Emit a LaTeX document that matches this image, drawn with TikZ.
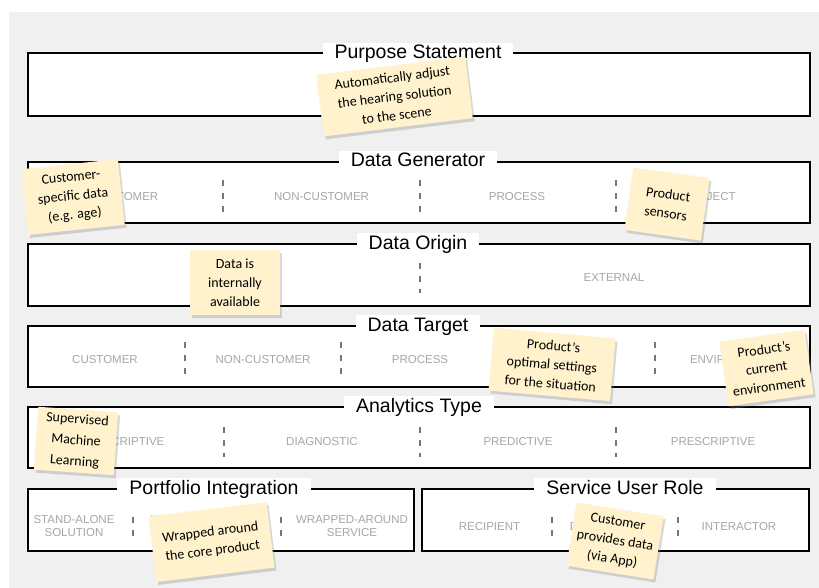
\documentclass[tikz,border=0pt]{standalone}
\usepackage{fontspec}
\setmainfont{Liberation Sans}
\newfontfamily\notefont{Carlito}
\usepackage{tikz}
\usetikzlibrary{positioning}
\usetikzlibrary{shadows}

\definecolor{notecol}{RGB}{255,242,204}
\definecolor{panelgray}{RGB}{240,240,240}
\definecolor{labelgray}{RGB}{166,166,166}
\definecolor{dividergray}{RGB}{118,118,118}

\begin{document}
\begin{tikzpicture}[x=1pt, y=-1pt,
        dimbox/.style={draw=black, fill=white, line width=1.5pt, inner sep=0pt},
        dimtitle/.style={fill=white, inner xsep=12pt, inner ysep=2pt, text height=14pt, text depth=4pt, font=\fontsize{19.5}{22}\selectfont},
        dimlabel/.style={text=labelgray, align=center, font=\fontsize{11.5}{13.5}\selectfont},
        divider/.style={draw=dividergray, line width=1.3pt, dash pattern=on 6pt off 7pt},
        note/.style={fill=notecol, align=center, inner sep=2pt, font=\notefont\fontsize{14}{19}\selectfont,
            drop shadow={opacity=0.3, shadow xshift=2pt, shadow yshift=-3pt}}]
        \useasboundingbox (0,0) rectangle (819,588);
        \fill[panelgray] (9,12) rectangle (819,588);

        % dimensions
        \node (purpose) at (419,84.5) [dimbox, minimum width=782pt, minimum height=63pt] {};
        \node (generator) at (419,192.5) [dimbox, minimum width=782pt, minimum height=61pt] {};
        \node (origin) at (419,275) [dimbox, minimum width=782pt, minimum height=62pt] {};
        \node (target) at (419,356.5) [dimbox, minimum width=782pt, minimum height=61pt] {};
        \node (analytics) at (419,437.5) [dimbox, minimum width=782pt, minimum height=61pt] {};
        \node (portfolio) at (221,520) [dimbox, minimum width=386pt, minimum height=62pt] {};
        \node (userrole) at (615.5,520) [dimbox, minimum width=387pt, minimum height=62pt] {};

        % data generator
        \node (gencustomer) at (125.5,197) [dimlabel] {CUSTOMER};
        \node (gennoncustomer) at (321.5,197) [dimlabel] {NON-CUSTOMER};
        \node (genprocess) at (517,197) [dimlabel] {PROCESS};
        \node (genobject) at (713,197) [dimlabel] {OBJECT};
        \draw[divider] (223,180) -- (223,212);
        \draw[divider] (420,180) -- (420,212);
        \draw[divider] (616,180) -- (616,212);

        % data origin
        \node (origexternal) at (614,278) [dimlabel] {EXTERNAL};
        \draw[divider] (420,263) -- (420,293);

        % data target
        \node (tarcustomer) at (105,360) [dimlabel] {CUSTOMER};
        \node (tarnoncustomer) at (263,360) [dimlabel] {NON-CUSTOMER};
        \node (tarprocess) at (420,360) [dimlabel] {PROCESS};
        \node (tarenvironment) at (732.5,360) [dimlabel] {ENVIRONMENT};
        \draw[divider] (185,342) -- (185,377);
        \draw[divider] (341,342) -- (341,377);
        \draw[divider] (498,342) -- (498,377);
        \draw[divider] (655,342) -- (655,377);

        % analytics type
        \node (descriptive) at (126,442) [dimlabel] {DESCRIPTIVE};
        \node (diagnostic) at (322,442) [dimlabel] {DIAGNOSTIC};
        \node (predictive) at (518,442) [dimlabel] {PREDICTIVE};
        \node (prescriptive) at (713,442) [dimlabel] {PRESCRIPTIVE};
        \draw[divider] (224,427) -- (224,457);
        \draw[divider] (420,427) -- (420,457);
        \draw[divider] (616,427) -- (616,457);

        % portfolio integration
        \node (standalone) at (74,526) [dimlabel] {STAND-ALONE\\SOLUTION};
        \node (wrapproduct) at (207,526) [dimlabel] {WRAPPED-AROUND\\PRODUCT};
        \node (wrapservice) at (352,526) [dimlabel] {WRAPPED-AROUND\\SERVICE};
        \draw[divider] (133,517) -- (133,537);
        \draw[divider] (281,517) -- (281,537);

        % service user role
        \node (recipient) at (489.5,527) [dimlabel] {RECIPIENT};
        \node (provider) at (616,527) [dimlabel] {DATA PROVIDER};
        \node (interactor) at (739,527) [dimlabel] {INTERACTOR};
        \draw[divider] (552,517) -- (552,537);
        \draw[divider] (678,517) -- (678,537);

        % titles
        \node (purposetitle) at (418,54) [dimtitle] {Purpose Statement};
        \node (generatortitle) at (418,162) [dimtitle] {Data Generator};
        \node (origintitle) at (418,244) [dimtitle] {Data Origin};
        \node (targettitle) at (418,326) [dimtitle] {Data Target};
        \node (analyticstitle) at (419,407) [dimtitle] {Analytics Type};
        \node (portfoliotitle) at (214,489) [dimtitle] {Portfolio Integration};
        \node (userroletitle) at (625,489) [dimtitle] {Service User Role};

        % sticky notes
        \node (scenenote) at (394.5,96.5) [note, minimum width=150pt, minimum height=62pt, rotate=7] {Automatically adjust\\the hearing solution\\to the scene};
        \node (agenote) at (73,197) [note, minimum width=97pt, minimum height=66pt, rotate=6] {Customer-\\specific data\\(e.g. age)};
        \node (sensornote) at (667,204) [note, minimum width=77pt, minimum height=63pt, rotate=-8] {Product\\sensors};
        \node (internalnote) at (235,282.5) [note, minimum width=90pt, minimum height=65pt] {Data is\\internally\\available};
        \node (settingsnote) at (552,364.5) [note, minimum width=122pt, minimum height=63pt, rotate=-5] {Product’s\\optimal settings\\for the situation};
        \node (environmentnote) at (766.5,368) [note, minimum width=86pt, minimum height=65pt, rotate=8] {Product’s\\current\\environment};
        \node (learningnote) at (76,441) [note, minimum width=80pt, minimum height=63pt, rotate=-4, font=\notefont\fontsize{14}{21}\selectfont] {Supervised\\Machine\\Learning};
        \node (wrappednote) at (211.5,542) [note, minimum width=119pt, minimum height=66pt, rotate=7] {Wrapped around\\the core product};
        \node (providernote) at (615,541) [note, minimum width=88pt, minimum height=64pt, rotate=-9] {Customer\\provides data\\(via App)};
    \end{tikzpicture}
\end{document}
